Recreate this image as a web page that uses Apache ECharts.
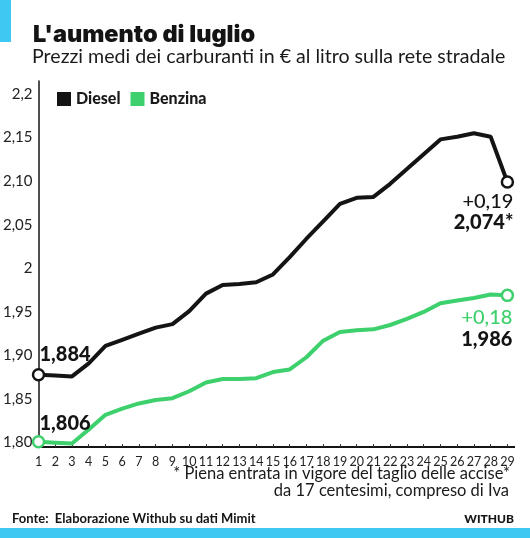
<!DOCTYPE html>
<html>
<head>
<meta charset="utf-8">
<script src="https://cdn.jsdelivr.net/npm/echarts@6/dist/echarts.min.js"></script>
<style>
  html, body { margin: 0; padding: 0; background: #ffffff; }
  #chart { width: 530px; height: 538px; }
</style>
</head>
<body>
<div id="chart"></div>
<script>
var days = ['1','2','3','4','5','6','7','8','9','10','11','12','13','14','15',
            '16','17','18','19','20','21','22','23','24','25','26','27','28','29'];

var diesel = [1.878, 1.877, 1.876, 1.891, 1.911, 1.918, 1.925, 1.932, 1.936, 1.951,
              1.971, 1.981, 1.982, 1.984, 1.993, 2.013, 2.034, 2.054, 2.074, 2.081,
              2.082, 2.097, 2.114, 2.131, 2.148, 2.151, 2.155, 2.151, 2.099];

var benzina = [1.801, 1.800, 1.799, 1.815, 1.832, 1.839, 1.845, 1.849, 1.851, 1.859,
               1.869, 1.873, 1.873, 1.874, 1.881, 1.884, 1.898, 1.917, 1.927, 1.929,
               1.930, 1.935, 1.942, 1.950, 1.960, 1.963, 1.966, 1.970, 1.969];

var yTicks = [1.80, 1.85, 1.90, 1.95, 2.00, 2.05, 2.10, 2.15, 2.20];
var yTickLabels = ['1,80', '1,85', '1,90', '1,95', '2', '2,05', '2,10', '2,15', '2,2'];

var BLACK = '#141414';
var GREEN = '#3dd06c';
var BLUE = '#3ec8f2';
var FONT = 'Lato, "Noto Sans", sans-serif';
var HEAVY = 'Inter, Lato, sans-serif';

// only first and last points get a marker + label
function withEnds(values, color, firstLabel, lastLabel) {
    return values.map(function (v, i) {
        if (i !== 0 && i !== values.length - 1) return v;
        var item = {
            value: v,
            symbol: 'circle',
            symbolSize: 11,
            itemStyle: { color: '#ffffff', borderColor: color, borderWidth: 2.5 }
        };
        item.label = i === 0 ? firstLabel : lastLabel;
        return item;
    });
}

var chart = echarts.init(document.getElementById('chart'));

var option = {
    animation: false,
    backgroundColor: '#ffffff',
    title: [
        {
            text: "L'aumento di luglio",
            left: 28,
            top: 18,
            textStyle: { fontFamily: HEAVY, fontWeight: 900, fontSize: 23.5, color: BLACK }
        },
        {
            text: 'Prezzi medi dei carburanti in € al litro sulla rete stradale',
            left: 27,
            top: 42,
            textStyle: { fontFamily: FONT, fontWeight: 'normal', fontSize: 19.6, color: '#1a1a1a' }
        }
    ],
    legend: {
        left: 52,
        top: 86,
        icon: 'rect',
        itemWidth: 14,
        itemHeight: 14,
        itemGap: 10,
        textStyle: { fontFamily: FONT, fontWeight: 900, fontSize: 16, color: '#1a1a1a' },
        data: ['Diesel', 'Benzina']
    },
    grid: { left: 36.5, right: 22.6, top: 81, bottom: 91 },
    xAxis: {
        type: 'category',
        data: days,
        boundaryGap: false,
        axisLine: { lineStyle: { color: BLACK, width: 2 } },
        axisTick: { show: true, inside: true, length: 3, alignWithLabel: true, lineStyle: { color: '#333' } },
        axisLabel: { interval: 0, margin: 8, fontFamily: FONT, fontSize: 12.5, color: '#222' },
        splitLine: { show: false }
    },
    yAxis: {
        type: 'value',
        min: 1.795,
        max: 2.215,
        interval: 0.005,
        axisLine: { show: true, lineStyle: { color: BLACK, width: 1.5 } },
        axisTick: { show: false },
        splitLine: { show: false },
        axisLabel: {
            margin: 6,
            fontFamily: FONT,
            fontSize: 15,
            color: '#222',
            formatter: function (v) {
                for (var i = 0; i < yTicks.length; i++) {
                    if (Math.abs(v - yTicks[i]) < 1e-6) return yTickLabels[i];
                }
                return '';
            }
        }
    },
    series: [
        {
            name: 'Diesel',
            type: 'line',
            symbol: 'none',
            color: BLACK,
            lineStyle: { color: BLACK, width: 4 },
            z: 3,
            data: withEnds(diesel, BLACK,
                { show: true, position: 'top', align: 'left', offset: [1, 2], formatter: '1,884',
                  fontFamily: FONT, fontWeight: 900, fontSize: 20, color: BLACK },
                { show: true, position: 'bottom', align: 'right', offset: [6, -3],
                  formatter: '{a|+0,19}\n{b|2,074*}',
                  rich: {
                      a: { fontFamily: FONT, fontWeight: 500, fontSize: 20, color: BLACK, align: 'right', lineHeight: 21 },
                      b: { fontFamily: FONT, fontWeight: 900, fontSize: 20, color: BLACK, align: 'right', lineHeight: 21 }
                  } })
        },
        {
            name: 'Benzina',
            type: 'line',
            symbol: 'none',
            color: GREEN,
            lineStyle: { color: GREEN, width: 4 },
            z: 2,
            data: withEnds(benzina, GREEN,
                { show: true, position: 'top', align: 'left', offset: [1, 4], formatter: '1,806',
                  fontFamily: FONT, fontWeight: 900, fontSize: 20, color: BLACK },
                { show: true, position: 'bottom', align: 'right', offset: [5, -1],
                  formatter: '{a|+0,18}\n{b|1,986}',
                  rich: {
                      a: { fontFamily: FONT, fontWeight: 500, fontSize: 20, color: GREEN, align: 'right', lineHeight: 22 },
                      b: { fontFamily: FONT, fontWeight: 900, fontSize: 20, color: BLACK, align: 'right', lineHeight: 22 }
                  } })
        }
    ],
    graphic: [
        { type: 'rect', left: 0, top: 0, shape: { width: 11, height: 42 }, style: { fill: BLUE } },
        { type: 'rect', left: 0, top: 528, shape: { width: 530, height: 10 }, style: { fill: BLUE } },
        { type: 'line', shape: { x1: 507, y1: 447, x2: 515, y2: 447 }, style: { stroke: BLACK, lineWidth: 2 } },
        { type: 'text', right: 20, top: 465,
          style: { text: '* Piena entrata in vigore del taglio delle accise*', fontFamily: FONT, fontSize: 16.5, fill: '#1a1a1a' } },
        { type: 'text', right: 21, top: 482,
          style: { text: 'da 17 centesimi, compreso di Iva', fontFamily: FONT, fontSize: 16.5, fill: '#1a1a1a' } },
        { type: 'text', left: 12, top: 512,
          style: { text: 'Fonte:  Elaborazione Withub su dati Mimit', fontFamily: FONT, fontWeight: 'bold', fontSize: 13, fill: BLACK } },
        { type: 'text', right: 16, top: 513,
          style: { text: 'WITHUB', fontFamily: FONT, fontWeight: 900, fontSize: 12, fill: BLACK } }
    ]
};

chart.setOption(option);
</script>
</body>
</html>
